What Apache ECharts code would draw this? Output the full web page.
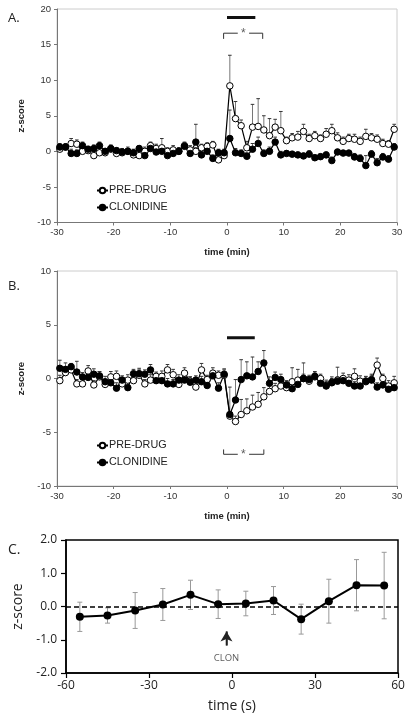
<!DOCTYPE html>
<html><head><meta charset="utf-8">
<script src="https://cdn.jsdelivr.net/npm/echarts@6/dist/echarts.min.js"></script>
<style>html,body{margin:0;padding:0;background:#fff}#c{width:409px;height:717px}</style>
</head><body><div id="c"></div>
<script>
// ---------- DATA ----------
const timeMin = [-29.5,-28.5,-27.5,-26.5,-25.5,-24.5,-23.5,-22.5,-21.5,-20.5,-19.5,-18.5,-17.5,-16.5,-15.5,-14.5,-13.5,-12.5,-11.5,-10.5,-9.5,-8.5,-7.5,-6.5,-5.5,-4.5,-3.5,-2.5,-1.5,-0.5,0.5,1.5,2.5,3.5,4.5,5.5,6.5,7.5,8.5,9.5,10.5,11.5,12.5,13.5,14.5,15.5,16.5,17.5,18.5,19.5,20.5,21.5,22.5,23.5,24.5,25.5,26.5,27.5,28.5,29.5];

// Panel A
const preDrugA = [0.3,0.6,1.1,1.0,0.0,0.1,-0.6,-0.2,-0.2,0.3,-0.3,-0.2,0.0,-0.5,-0.6,0.0,0.8,0.4,0.5,0.0,0.2,0.0,0.8,0.2,0.0,0.5,0.7,0.9,-1.2,-0.6,
  9.2,4.6,3.6,0.5,3.4,3.5,3.0,2.2,3.4,2.9,
  1.5,1.9,2.0,2.8,1.8,2.2,1.8,2.4,2.9,1.9,1.4,1.8,1.7,1.4,2.1,1.9,1.7,1.1,1.0,3.1];
const preDrugAErr = [0.6,0.5,0.7,0.6,0.5,0.5,0.6,0.6,0.5,0.5,0.5,0.6,0.6,0.5,0.6,0.6,0.5,0.6,1.3,0.5,0.6,0.5,0.5,0.6,0.5,0.5,0.5,0.5,0.6,0.5,
  4.3,2.4,0.8,0.9,3.2,3.9,2.0,2.4,1.1,2.7,
  0.5,0.6,0.8,1.0,0.6,0.6,0.5,0.8,0.9,0.7,0.6,0.6,0.7,0.6,1.0,0.6,0.6,0.6,0.5,0.7];
const clonidineA = [0.6,0.6,-0.3,-0.3,0.8,0.3,0.4,0.8,0.0,0.4,0.1,-0.1,0.0,-0.2,0.4,-0.6,0.4,-0.1,0.0,-0.6,-0.3,0.0,0.7,-0.3,1.3,-0.5,0.0,-1.0,-0.2,-0.2,
  1.8,-0.2,-0.3,-0.7,0.3,1.1,-0.3,0.0,1.3,-0.5,
  -0.3,-0.4,-0.5,-0.65,-0.4,-0.9,-0.75,-0.5,-1.3,-0.1,-0.25,-0.25,-0.8,-1.0,-2.0,-0.4,-1.6,-0.8,-1.1,0.6];
const clonidineAErr = [0.5,0.4,0.6,0.5,0.5,0.4,0.5,0.5,0.4,0.5,0.4,0.5,0.4,0.5,0.4,0.5,0.4,0.5,0.4,0.5,0.4,0.5,0.4,0.5,2.5,0.5,0.4,0.5,0.5,0.5,
  4.0,0.6,0.5,0.5,0.8,0.9,0.5,0.6,0.7,0.5,
  0.4,0.4,0.4,0.4,0.5,0.4,0.4,0.4,0.5,0.4,0.4,0.4,0.5,0.5,1.4,0.5,0.6,0.5,0.5,0.5];

// Panel B
const preDrugB = [-0.2,0.55,0.8,-0.5,-0.5,0.7,-0.6,0.15,-0.55,0.15,0.2,-0.5,-0.15,-0.2,0.3,-0.5,-0.15,0.2,0.2,0.8,0.35,-0.55,0.5,-0.25,-0.8,0.8,-0.1,0.5,0.3,0.3,
  -3.5,-4.0,-3.35,-3.0,-2.65,-2.4,-1.7,-1.2,-0.95,-0.7,
  -0.85,-0.3,-0.15,0.0,-0.25,0.15,0.0,-0.65,-0.35,-0.15,0.0,-0.15,0.2,-0.25,-0.3,-0.1,1.25,0.0,-0.7,-0.4];
const preDrugBErr = [0.5,0.5,0.5,0.4,0.5,0.5,0.4,0.5,0.4,0.5,0.5,0.4,0.5,0.5,0.5,0.4,0.5,0.4,0.5,0.5,0.5,0.4,0.5,0.4,0.5,0.6,0.4,0.5,0.4,0.5,
  0.3,0.5,1.4,1.1,1.1,1.1,0.85,0.6,0.5,0.5,
  0.6,1.3,1.0,1.45,0.4,0.5,0.4,0.5,0.5,1.2,0.5,0.5,0.7,0.5,0.5,0.5,0.65,0.4,0.5,0.6];
const clonidineB = [0.95,0.85,1.1,0.6,0.15,0.1,0.4,0.25,-0.3,-0.4,-0.9,-0.15,-0.85,0.45,0.45,0.4,0.8,-0.2,-0.2,-0.5,-0.5,-0.15,-0.15,-0.35,-0.15,-0.3,-0.65,0.25,-0.9,0.4,
  -3.35,-2.0,-0.1,0.25,0.15,0.65,1.45,-0.45,0.1,-0.1,
  -0.6,-0.95,-0.55,0.0,-0.1,0.2,-0.45,-0.7,-0.4,-0.25,-0.2,-0.45,-0.7,-0.7,-0.25,-0.15,-0.8,-0.6,-1.0,-0.85];
const clonidineBErr = [0.75,0.6,0.3,1.0,0.4,0.4,0.5,0.4,0.5,0.5,0.5,0.4,0.5,0.4,0.5,0.4,0.5,0.5,0.4,0.5,0.4,0.5,0.4,0.5,0.4,0.5,0.4,0.4,0.5,0.5,
  2.55,1.9,1.85,1.3,1.85,0.9,1.15,0.6,0.5,0.5,
  0.4,0.4,0.4,0.4,0.4,0.4,0.4,0.4,0.4,0.4,0.4,0.4,0.4,0.4,0.4,0.4,0.4,0.4,0.4,0.4];

// Panel C
const timeSec = [-55,-45,-35,-25,-15,-5,5,15,25,35,45,55];
const clonC = [-0.31,-0.27,-0.12,0.06,0.35,0.07,0.09,0.18,-0.38,0.16,0.64,0.63];
const clonCErr = [0.44,0.23,0.54,0.48,0.44,0.43,0.37,0.42,0.45,0.66,0.77,1.0];

// Annotations (data coordinates)
const sigBarA = [[0,18.8],[5,18.8]];
const bracketA_L = [[-0.6,15.8],[-0.6,16.6],[1.9,16.6]];
const bracketA_R = [[3.9,16.6],[6.3,16.6],[6.3,15.8]];
const starA = [2.9,16.6];
const sigBarB = [[0,3.8],[4.9,3.8]];
const bracketB_L = [[-0.6,-6.6],[-0.6,-7.05],[1.9,-7.05]];
const bracketB_R = [[3.9,-7.05],[6.5,-7.05],[6.5,-6.6]];
const starB = [2.9,-7.05];
const arrowC = [[-2,-1.17],[-2,-0.75]];
const clonLabelC = [-2,-1.55];

// ---------- CHART ----------
const chart = echarts.init(document.getElementById('c'), null, {renderer:'canvas'});
const pair = (xs, ys) => xs.map((x,i)=>[x, ys[i]]);
const plusErr = (xs, ys, es) => xs.map((x,i)=>[x, ys[i], ys[i]+es[i]]);
const bothErr = (xs, ys, es) => xs.map((x,i)=>[x, ys[i]-es[i], ys[i]+es[i]]);

function renderPlus(params, api){
  const p0 = api.coord([api.value(0), api.value(1)]);
  const p1 = api.coord([api.value(0), api.value(2)]);
  const w = 1.8;
  return {type:'group', children:[
    {type:'line', shape:{x1:p0[0],y1:p0[1],x2:p1[0],y2:p1[1]}, style:{stroke:'#777', lineWidth:1}},
    {type:'line', shape:{x1:p1[0]-w,y1:p1[1],x2:p1[0]+w,y2:p1[1]}, style:{stroke:'#333', lineWidth:1}}
  ]};
}
function renderBoth(params, api){
  const p0 = api.coord([api.value(0), api.value(1)]);
  const p1 = api.coord([api.value(0), api.value(2)]);
  const w = 2.5;
  return {type:'group', children:[
    {type:'line', shape:{x1:p0[0],y1:p0[1],x2:p1[0],y2:p1[1]}, style:{stroke:'#999', lineWidth:1}},
    {type:'line', shape:{x1:p0[0]-w,y1:p0[1],x2:p0[0]+w,y2:p0[1]}, style:{stroke:'#999', lineWidth:1}},
    {type:'line', shape:{x1:p1[0]-w,y1:p1[1],x2:p1[0]+w,y2:p1[1]}, style:{stroke:'#999', lineWidth:1}}
  ]};
}

const smallFont = 'Liberation Sans, Arial, sans-serif';
const cFont = 'Open Sans, Noto Sans, sans-serif';

function abXAxis(gi){
  return {gridIndex:gi, type:'value', min:-30, max:30, interval:10,
    name:'time (min)', nameLocation:'middle', nameGap:25,
    nameTextStyle:{fontFamily:smallFont, fontWeight:'bold', fontSize:9.5, color:'#222'},
    axisLine:{show:true, onZero:false, lineStyle:{color:'#777', width:1}},
    axisTick:{show:true, inside:false, length:3, lineStyle:{color:'#777'}},
    axisLabel:{fontFamily:smallFont, fontSize:9.5, color:'#333', margin:5},
    splitLine:{show:false}};
}
function abYAxis(gi, min, max){
  return {gridIndex:gi, type:'value', min:min, max:max, interval:5,
    name:'z-score', nameLocation:'middle', nameGap:22,
    nameTextStyle:{fontFamily:smallFont, fontWeight:'bold', fontSize:9.5, color:'#222'},
    axisLine:{show:true, onZero:false, lineStyle:{color:'#777', width:1}},
    axisTick:{show:true, inside:false, length:3, lineStyle:{color:'#777'}},
    axisLabel:{fontFamily:smallFont, fontSize:9.5, color:'#333', margin:6},
    splitLine:{show:false}};
}
function lineSeries(name, gi, data, filled){
  return {name:name, type:'line', xAxisIndex:gi, yAxisIndex:gi, data:data,
    symbol:'circle', symbolSize:6.5, z:5,
    lineStyle:{color:'#000', width:1.2},
    itemStyle:{color: filled ? '#000' : '#fff', borderColor:'#000', borderWidth:1},
    emphasis:{disabled:true}};
}
function errSeries(gi, data){
  return {type:'custom', xAxisIndex:gi, yAxisIndex:gi, renderItem:renderPlus, data:data,
    encode:{x:0, y:[1,2]}, z:2, silent:true};
}
function polySeries(gi, data, width, color){
  return {type:'line', xAxisIndex:gi, yAxisIndex:gi, data:data, symbol:'none', z:3,
    lineStyle:{color:color, width:width}, silent:true, emphasis:{disabled:true}};
}
function textSeries(gi, pt, text, size, family, color){
  return {type:'scatter', xAxisIndex:gi, yAxisIndex:gi, data:[pt], symbolSize:0, z:6, silent:true,
    label:{show:true, position:'inside', formatter:text, fontSize:size, fontFamily:family, color:color}};
}

const legendBase = {orient:'vertical', itemWidth:11, itemHeight:7, itemGap:6,
  textStyle:{fontFamily:smallFont, fontSize:10.8, color:'#222', padding:[0,0,0,-4]},
  data:['PRE-DRUG','CLONIDINE'], selectedMode:false};

const option = {
  animation:false,
  backgroundColor:'#fff',
  grid:[
    {left:57, top:9, width:340, height:213.5, show:true, borderColor:'#ccc', borderWidth:1, containLabel:false},
    {left:57, top:271, width:340, height:215, show:true, borderColor:'#ccc', borderWidth:1, containLabel:false},
    {left:66, top:540, width:332, height:133, show:true, borderColor:'#000', borderWidth:1.5, containLabel:false}
  ],
  legend:[
    Object.assign({left:91, top:180}, legendBase),
    Object.assign({left:91, top:435}, legendBase)
  ],
  graphic:[
    {type:'text', left:8, top:12, style:{text:'A.', font:'13px Open Sans, sans-serif', fill:'#222'}},
    {type:'text', left:8, top:280, style:{text:'B.', font:'13px Open Sans, sans-serif', fill:'#222'}},
    {type:'text', left:8, top:543, style:{text:'C.', font:'14px Open Sans, sans-serif', fill:'#222'}}
  ],
  xAxis:[
    abXAxis(0), abXAxis(1),
    {gridIndex:2, type:'value', min:-60, max:60, interval:30,
      name:'time (s)', nameLocation:'middle', nameGap:26,
      nameTextStyle:{fontFamily:cFont, fontSize:14, color:'#222'},
      axisLine:{show:true, onZero:false, lineStyle:{color:'#000', width:1.5}},
      axisTick:{show:true, inside:false, length:5, lineStyle:{color:'#000', width:1.2}},
      axisLabel:{fontFamily:cFont, fontSize:12, color:'#222', margin:7},
      splitLine:{show:false}}
  ],
  yAxis:[
    abYAxis(0,-10,20), abYAxis(1,-10,10),
    {gridIndex:2, type:'value', min:-2, max:2, interval:1,
      name:'z-score', nameLocation:'middle', nameGap:26,
      nameTextStyle:{fontFamily:cFont, fontSize:14, color:'#222'},
      axisLine:{show:true, onZero:false, lineStyle:{color:'#000', width:1.5}},
      axisTick:{show:true, inside:false, length:5, lineStyle:{color:'#000', width:1.2}},
      axisLabel:{fontFamily:cFont, fontSize:12, color:'#222', margin:9, formatter:v=>v.toFixed(1)},
      splitLine:{show:false}}
  ],
  series:[
    // Panel A
    errSeries(0, plusErr(timeMin, preDrugA, preDrugAErr)),
    errSeries(0, plusErr(timeMin, clonidineA, clonidineAErr)),
    lineSeries('PRE-DRUG', 0, pair(timeMin, preDrugA), false),
    lineSeries('CLONIDINE', 0, pair(timeMin, clonidineA), true),
    polySeries(0, sigBarA, 3, '#111'),
    polySeries(0, bracketA_L, 1, '#333'),
    polySeries(0, bracketA_R, 1, '#333'),
    textSeries(0, starA, '*', 12, smallFont, '#333'),
    // Panel B
    errSeries(1, plusErr(timeMin, preDrugB, preDrugBErr)),
    errSeries(1, plusErr(timeMin, clonidineB, clonidineBErr)),
    lineSeries('PRE-DRUG', 1, pair(timeMin, preDrugB), false),
    lineSeries('CLONIDINE', 1, pair(timeMin, clonidineB), true),
    polySeries(1, sigBarB, 3, '#111'),
    polySeries(1, bracketB_L, 1, '#333'),
    polySeries(1, bracketB_R, 1, '#333'),
    textSeries(1, starB, '*', 12, smallFont, '#333'),
    // Panel C
    {type:'custom', xAxisIndex:2, yAxisIndex:2, renderItem:renderBoth, data:bothErr(timeSec, clonC, clonCErr),
      encode:{x:0, y:[1,2]}, z:2, silent:true},
    {name:'CLON', type:'line', xAxisIndex:2, yAxisIndex:2, data:pair(timeSec, clonC),
      symbol:'circle', symbolSize:8, z:5, lineStyle:{color:'#000', width:2}, itemStyle:{color:'#000'},
      emphasis:{disabled:true},
      markLine:{silent:true, symbol:'none', label:{show:false},
        lineStyle:{color:'#000', width:1.5, type:[5,3]},
        data:[{yAxis:0}]}},
    {type:'line', xAxisIndex:2, yAxisIndex:2, data:arrowC, symbol:'none', z:4, silent:true,
      lineStyle:{color:'#222', width:1.5},
      markLine:{silent:true, symbol:['none','arrow'], symbolSize:[9,10], label:{show:false},
        lineStyle:{color:'#222', width:1.5, type:'solid'},
        data:[[{coord:arrowC[0]},{coord:arrowC[1]}]]}},
    textSeries(2, clonLabelC, 'CLON', 9.5, cFont, '#333')
  ]
};
chart.setOption(option);
</script>
</body></html>
